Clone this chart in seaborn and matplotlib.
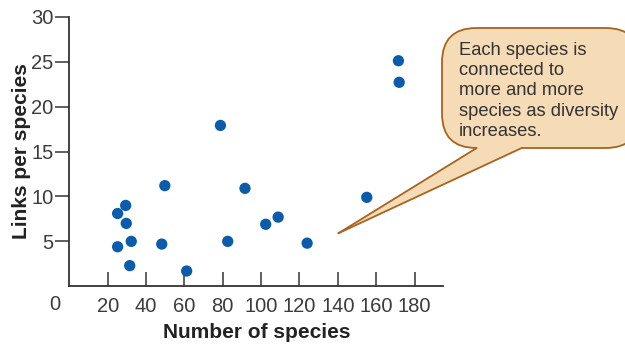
import matplotlib
matplotlib.use("Agg")
import matplotlib.pyplot as plt
from matplotlib.patches import FancyBboxPatch, Polygon
from matplotlib.lines import Line2D
import seaborn as sns
import pandas as pd

# Food-web survey: number of species vs. links per species
species_count = [25.2, 29.4, 29.7, 25.2, 32.3, 31.5, 48.2, 49.8, 61.2,
                 78.8, 82.6, 91.6, 102.4, 108.9, 124.0, 155.1, 171.6, 172.0]
links_per_species = [8.1, 9.0, 7.0, 4.4, 5.0, 2.3, 4.7, 11.2, 1.7,
                     17.9, 5.0, 10.9, 6.9, 7.7, 4.8, 9.9, 25.1, 22.7]

x_ticks = [20, 40, 60, 80, 100, 120, 140, 160, 180]
y_ticks = [5, 10, 15, 20, 25, 30]
note_text = "Each species is\nconnected to\nmore and more\nspecies as diversity\nincreases."

df = pd.DataFrame({"species": species_count, "links": links_per_species})

sns.set_theme(style="white")
plt.rcParams["font.family"] = ["Liberation Sans", "DejaVu Sans"]

W, H = 625, 346
fig = plt.figure(figsize=(W / 100, H / 100), dpi=100)
ax = fig.add_axes([69.3 / W, 1 - 286.3 / H, 374 / W, 269.6 / H])

sns.scatterplot(data=df, x="species", y="links", ax=ax, s=66,
                color="#0b5cab", edgecolor="none", zorder=3)

ax.set_xlim(0, 195)
ax.set_ylim(0, 30)
ax.set_xticks(x_ticks)
ax.set_yticks(y_ticks)
tick_color = "#3c3c3c"
ax.tick_params(axis="x", bottom=True, direction="in", length=10, width=1.2,
               color="#444", labelsize=14.5, labelcolor=tick_color, pad=8)
ax.tick_params(axis="y", left=True, direction="out", length=10, width=1.2,
               color="#444", labelsize=14.5, labelcolor=tick_color, pad=1.5)

for side in ("top", "right"):
    ax.spines[side].set_visible(False)
for side in ("left", "bottom"):
    ax.spines[side].set_color("#333")
    ax.spines[side].set_linewidth(1.3)

# shared origin label at the corner
fig.text(55 / W, 1 - 304 / H, "0", fontsize=14.5, color=tick_color,
         ha="center", va="center")

ax.set_xlabel("Number of species", fontsize=15, fontweight="bold",
              color="#222", labelpad=5)
ax.set_ylabel("Links per species", fontsize=15, fontweight="bold",
              color="#222", labelpad=0)

# callout bubble
fill = "#f5dbb6"
edge = "#a8631f"
bx0, by0, bx1, by1 = 442, 28, 640, 148
box = FancyBboxPatch((bx0 / W, 1 - by1 / H), (bx1 - bx0) / W, (by1 - by0) / H,
                     boxstyle="round,pad=0,rounding_size=0.055",
                     transform=fig.transFigure, facecolor=fill, edgecolor=edge,
                     linewidth=1.3, zorder=5, clip_on=False,
                     mutation_aspect=W / H)
fig.add_artist(box)

tip = ax.transData.transform((140.3, 5.9))
tip_fig = fig.transFigure.inverted().transform(tip)
base_l = (476.7 / W, 1 - by1 / H)
base_r = (521.7 / W, 1 - by1 / H)
tail = Polygon([base_l, tip_fig, base_r, (base_r[0], 1 - (by1 - 3) / H),
                (base_l[0], 1 - (by1 - 3) / H)],
               closed=True, transform=fig.transFigure, facecolor=fill,
               edgecolor="none", zorder=6, clip_on=False)
fig.add_artist(tail)
for b in (base_l, base_r):
    fig.add_artist(Line2D([b[0], tip_fig[0]], [b[1], tip_fig[1]],
                          transform=fig.transFigure, color=edge,
                          linewidth=1.3, zorder=7))

# one text per line keeps the line pitch fixed
for i, line in enumerate(note_text.split("\n")):
    fig.text(459 / W, 1 - (55 + 20.2 * i) / H, line, fontsize=13.2,
             color="#333", ha="left", va="baseline", zorder=8)

fig.savefig("out.png", dpi=100)
